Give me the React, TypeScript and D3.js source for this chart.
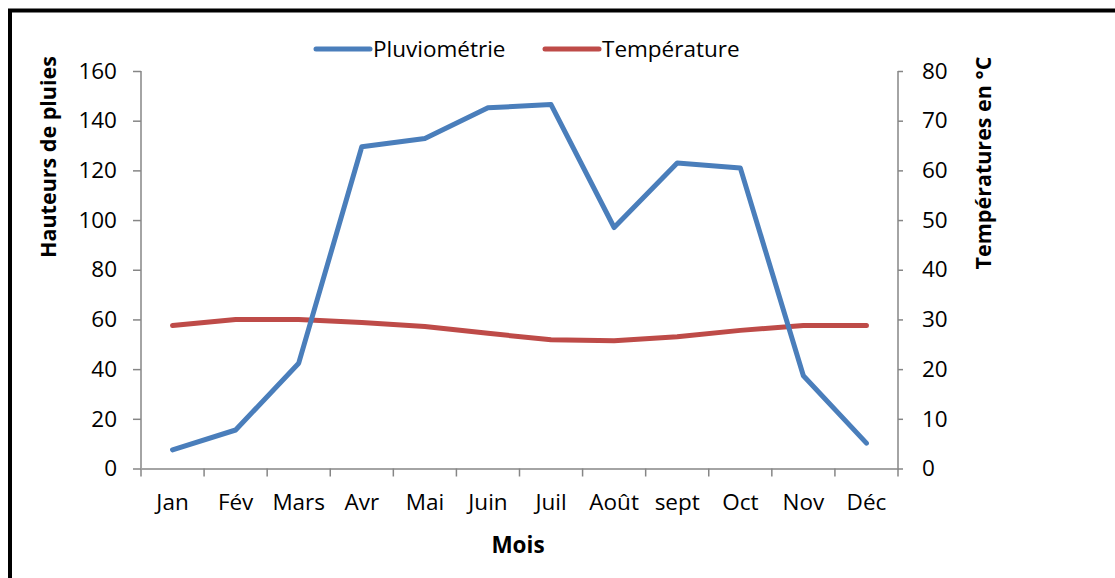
import React, { useEffect, useRef } from "react";
import * as d3 from "d3";

const months = ["Jan", "Fév", "Mars", "Avr", "Mai", "Juin", "Juil", "Août", "sept", "Oct", "Nov", "Déc"];
const pluvio = [7.5, 15.5, 42.4, 129.5, 132.8, 145.2, 146.5, 97, 123, 121, 37.3, 10.2];
const temperature = [28.8, 30, 30, 29.4, 28.6, 27.2, 25.9, 25.7, 26.5, 27.8, 28.8, 28.8];
const leftTicks = [0, 20, 40, 60, 80, 100, 120, 140, 160];
const rightTicks = [0, 10, 20, 30, 40, 50, 60, 70, 80];

const BLUE = "#4a7ebb";
const RED = "#be4b48";
const AXIS = "#868686";
const FONT = "'Open Sans', sans-serif";

export default function App() {
  const svgRef = useRef<SVGSVGElement | null>(null);

  useEffect(() => {
    if (!svgRef.current) return;
    const svg = d3.select(svgRef.current);
    svg.selectAll("*").remove();

    const left = 141;
    const right = 898;
    const top = 71;
    const bottom = 468.5;

    // frame (only top and left edges visible)
    svg
      .append("rect")
      .attr("x", 10)
      .attr("y", 10.5)
      .attr("width", 1200)
      .attr("height", 700)
      .attr("fill", "white")
      .attr("stroke", "black")
      .attr("stroke-width", 4);

    const x = d3.scaleBand<string>().domain(months).range([left, right]);
    const yL = d3.scaleLinear().domain([0, 160]).range([bottom, top]);
    const yR = d3.scaleLinear().domain([0, 80]).range([bottom, top]);

    // left axis
    const gl = svg.append("g").attr("transform", `translate(${left},0)`);
    gl.call(d3.axisLeft(yL).tickValues(leftTicks).tickSize(8).tickPadding(16));
    // right axis
    const gr = svg.append("g").attr("transform", `translate(${right},0)`);
    gr.call(d3.axisRight(yR).tickValues(rightTicks).tickSize(5).tickPadding(19));
    // bottom axis
    const gb = svg.append("g").attr("transform", `translate(0,${bottom})`);
    gb.call(d3.axisBottom(x).tickSize(0).tickPadding(26));
    gb.selectAll(".boundary")
      .data(d3.range(months.length + 1))
      .enter()
      .append("line")
      .attr("x1", (i) => left + i * x.step())
      .attr("x2", (i) => left + i * x.step())
      .attr("y1", 0)
      .attr("y2", 8)
      .attr("stroke", AXIS)
      .attr("stroke-width", 1.5);

    [gl, gr, gb].forEach((g) => {
      g.selectAll(".domain").attr("stroke", AXIS).attr("stroke-width", 1.5);
      g.selectAll(".tick line").attr("stroke", AXIS).attr("stroke-width", 1.5);
      g.selectAll("text")
        .attr("fill", "#000")
        .style("font-family", FONT)
        .style("font-size", "22.5px");
    });
    gl.select(".domain").attr("d", `M0,${bottom}V${top}`);
    gr.select(".domain").attr("d", `M0,${bottom}V${top}`);

    // lines
    const cx = (i: number) => (x(months[i]) as number) + x.bandwidth() / 2;
    const lineL = d3.line<number>().x((_, i) => cx(i)).y((d) => yL(d));
    const lineR = d3.line<number>().x((_, i) => cx(i)).y((d) => yR(d));

    svg
      .append("path")
      .datum(temperature)
      .attr("d", lineR)
      .attr("fill", "none")
      .attr("stroke", RED)
      .attr("stroke-width", 5)
      .attr("stroke-linecap", "round")
      .attr("stroke-linejoin", "round");

    svg
      .append("path")
      .datum(pluvio)
      .attr("d", lineL)
      .attr("fill", "none")
      .attr("stroke", BLUE)
      .attr("stroke-width", 5)
      .attr("stroke-linecap", "round")
      .attr("stroke-linejoin", "round");

    // axis titles
    svg
      .append("text")
      .attr("transform", "translate(56,157) rotate(-90)")
      .attr("text-anchor", "middle")
      .style("font-family", FONT)
      .style("font-size", "21.5px")
      .style("font-weight", "bold")
      .text("Hauteurs de pluies");

    svg
      .append("text")
      .attr("transform", "translate(991,163) rotate(-90)")
      .attr("text-anchor", "middle")
      .style("font-family", FONT)
      .style("font-size", "21.5px")
      .style("font-weight", "bold")
      .text("Températures en °C");

    svg
      .append("text")
      .attr("x", 518)
      .attr("y", 553)
      .attr("text-anchor", "middle")
      .style("font-family", FONT)
      .style("font-size", "22.5px")
      .style("font-weight", "bold")
      .text("Mois");

    // legend
    const legend = [
      { name: "Pluviométrie", color: BLUE, x: 316 },
      { name: "Température", color: RED, x: 545 },
    ];
    const lg = svg.append("g");
    legend.forEach((l) => {
      lg.append("line")
        .attr("x1", l.x)
        .attr("x2", l.x + 54)
        .attr("y1", 49)
        .attr("y2", 49)
        .attr("stroke", l.color)
        .attr("stroke-width", 5)
        .attr("stroke-linecap", "round");
      lg.append("text")
        .attr("x", l.x + 57)
        .attr("y", 57)
        .style("font-family", FONT)
        .style("font-size", "22.5px")
        .text(l.name);
    });
  }, []);

  return (
    <svg
      ref={svgRef}
      width={1115}
      height={578}
      style={{ position: "absolute", left: 0, top: 0, background: "white" }}
    ></svg>
  );
}
